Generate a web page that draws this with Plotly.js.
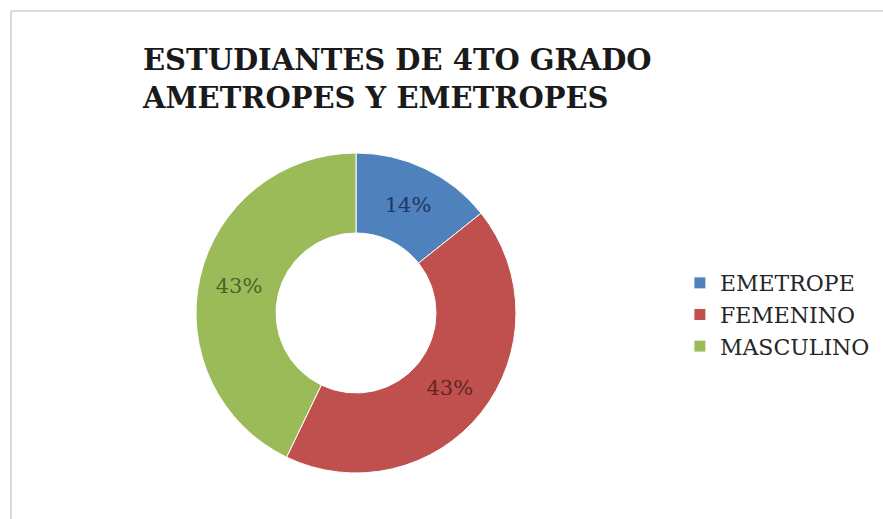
<!DOCTYPE html>
<html>
<head>
<meta charset="utf-8">
<script src="https://cdn.plot.ly/plotly-3.0.1.min.js"></script>
<style>html,body{margin:0;padding:0;background:#fff;}#chart{width:883px;height:519px;}</style>
</head>
<body>
<div id="chart"></div>
<script>
const categories = ["EMETROPE", "FEMENINO", "MASCULINO"];
const values = [1, 3, 3];
const sliceColors = ["#4F81BD", "#C0504D", "#9BBB59"];
const labelColors = ["#1F3763", "#632523", "#4F6228"];
const titleText = "ESTUDIANTES DE 4TO GRADO<br>AMETROPES Y EMETROPES";

const W = 883, H = 519;
const cx = 356, cy = 313, R = 160;

const trace = {
  type: "pie",
  labels: categories,
  values: values,
  hole: 0.5,
  sort: false,
  direction: "clockwise",
  rotation: 0,
  marker: {colors: sliceColors, line: {color: "#ffffff", width: 1}},
  textinfo: "percent",
  texttemplate: "%{percent:.0%}",
  textposition: "inside",
  insidetextorientation: "horizontal",
  insidetextfont: {family: "DejaVu Serif", size: 21, color: labelColors},
  hoverinfo: "label+percent",
  domain: {x: [(cx - R) / W, (cx + R) / W], y: [(H - cy - R) / H, (H - cy + R) / H]}
};

const layout = {
  width: W, height: H,
  margin: {l: 0, r: 0, t: 0, b: 0},
  paper_bgcolor: "#ffffff",
  plot_bgcolor: "#ffffff",
  title: {
    text: titleText,
    font: {family: "DejaVu Serif", size: 29, color: "#1a1a1a", weight: 700},
    xref: "container", yref: "container",
    x: 143 / W, xanchor: "left",
    y: 1 - 70 / H, yanchor: "top"
  },
  showlegend: true,
  legend: {
    x: 0.770, xanchor: "left",
    y: 0.495, yanchor: "top",
    font: {family: "DejaVu Serif", size: 22, color: "#262626"},
    bgcolor: "rgba(0,0,0,0)"
  },
  shapes: [
    {type: "line", xref: "paper", yref: "paper", x0: 11 / W, x1: 1, y0: 1 - 11 / H, y1: 1 - 11 / H, line: {color: "#d9d9d9", width: 2}},
    {type: "line", xref: "paper", yref: "paper", x0: 11 / W, x1: 11 / W, y0: 0, y1: 1 - 11 / H, line: {color: "#d9d9d9", width: 2}}
  ]
};

Plotly.newPlot("chart", [trace], layout, {displayModeBar: false, staticPlot: true});
</script>
</body>
</html>
